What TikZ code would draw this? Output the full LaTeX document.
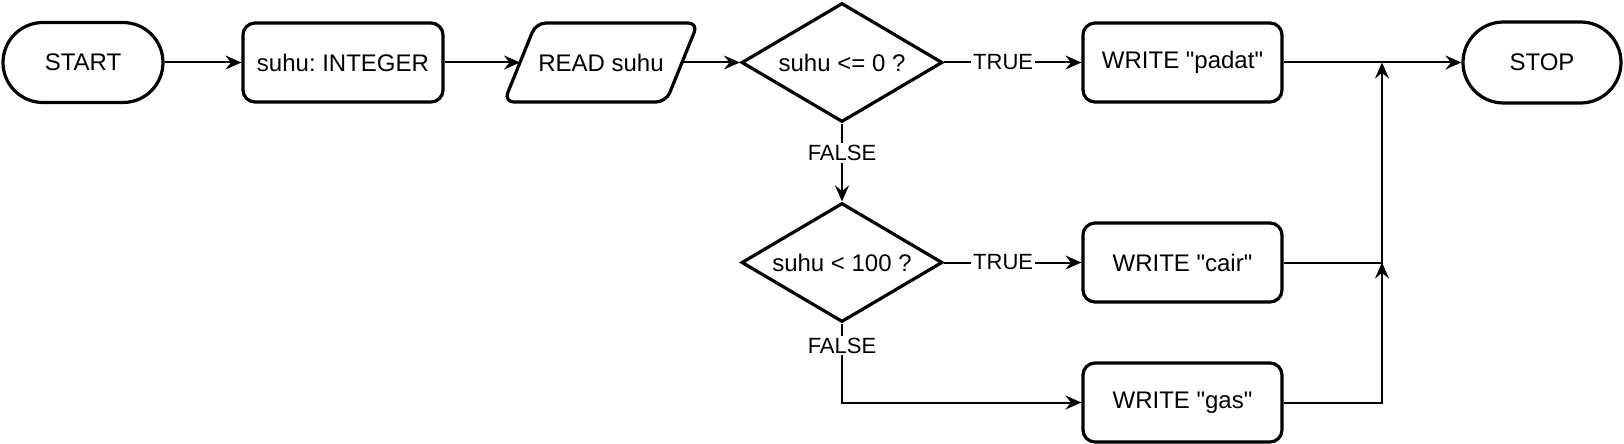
\documentclass[tikz,border=0pt]{standalone}
\usepackage{fontspec}
\setmainfont{Liberation Sans}[Ligatures=TeXOff]
\usetikzlibrary{shapes.geometric,shapes.misc,arrows.meta,calc}
\frenchspacing
\begin{document}
\begin{tikzpicture}[x=0.5pt,y=-0.5pt,
  shapeline/.style={draw, line width=1.6pt},
  box/.style={shapeline, rounded corners=6pt, minimum width=99.5pt, minimum height=39.5pt, inner sep=0pt, font=\fontsize{12}{14}\selectfont},
  term/.style={shapeline, rounded rectangle, minimum width=80pt, minimum height=40pt, inner sep=0pt, font=\fontsize{12}{14}\selectfont},
  dec/.style={shapeline, diamond, aspect=1.69, minimum width=100.5pt, minimum height=59.5pt, inner sep=0pt, font=\fontsize{12}{14}\selectfont},
  conn/.style={line width=1pt, -{Stealth[length=8pt,width=7pt,inset=2.8pt]}},
  lbl/.style={fill=white, inner sep=1pt, font=\fontsize{11}{13}\selectfont}
]
\useasboundingbox (0,0) rectangle (1624,444);

\node[term] (start) at (83,62.5) {START};
\node[box, minimum width=100pt] (int) at (343,62.5) {suhu: INTEGER};
\node[minimum width=81pt, minimum height=39.5pt, inner sep=0pt, outer sep=0pt, font=\fontsize{12}{14}\selectfont] (read) at (601,62.5) {READ suhu};
\draw[shapeline, rounded corners=5pt] ($(read.south west)+(-16,0)$) -- ($(read.north west)+(16,0)$) -- ($(read.north east)+(16,0)$) -- ($(read.south east)+(-16,0)$) -- cycle;
\node[dec] (d1) at (842,62.5) {suhu <= 0 ?};
\node[box] (padat) at (1182.5,62.5) {WRITE "padat"};
\node[term, minimum width=79pt, minimum height=40.5pt] (stop) at (1542,62.5) {STOP};
\node[dec] (d2) at (842,262.5) {suhu < 100 ?};
\node[box] (cair) at (1182.5,262.5) {WRITE "cair"};
\node[box] (gas) at (1182.5,402.5) {WRITE "gas"};
\coordinate (m1) at (1382,62.5);
\coordinate (m2) at (1382,262.5);

\draw[conn] (start.east) -- (int.west);
\draw[conn] (int.east) -- (read.west);
\draw[conn] (read.east) -- (d1.west);
\draw[conn] (d1.east) -- node[lbl, pos=0.43]{TRUE} (padat.west);
\draw[conn] (padat.east) -- (stop.west);
\draw[conn] (d1.south) -- node[lbl, pos=0.38]{FALSE} (d2.north);
\draw[conn] (d2.east) -- node[lbl, pos=0.43]{TRUE} (cair.west);
\draw[conn] (d2.south) |- node[lbl, pos=0.14]{FALSE} (gas.west);
\draw[conn] (cair.east) -| (m1);
\draw[conn] (gas.east) -| (m2);
\end{tikzpicture}
\end{document}
